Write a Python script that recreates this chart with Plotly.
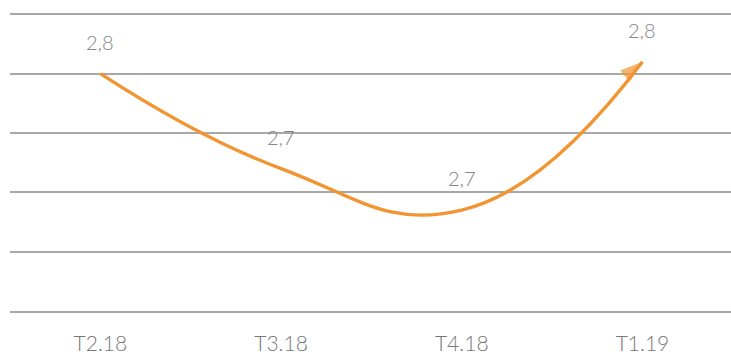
import plotly.graph_objects as go

# Quarterly series
quarters = ["T2.18", "T3.18", "T4.18", "T1.19"]
values = [2.80, 2.72, 2.685, 2.81]
grid_values = [2.65, 2.70, 2.75, 2.80, 2.85]

line_color = "#F19431"
text_color = "#858585"
grid_color = "#a8a8a8"
font_family = "Lato, 'Open Sans', sans-serif"

fig = go.Figure()
fig.add_trace(go.Scatter(
    x=quarters,
    y=values,
    mode="lines+markers",
    line=dict(color=line_color, width=3.4, shape="spline", smoothing=1.3),
    marker=dict(
        symbol="arrow",
        angleref="previous",
        size=[0, 0, 0, 24],
        color=line_color,
        line=dict(width=0),
    ),
    hoverinfo="skip",
    cliponaxis=False,
))

# Value labels above each point (one decimal, comma separator)
for q, v in zip(quarters, values):
    fig.add_annotation(
        x=q, y=v, text=f"{v:.1f}".replace(".", ","),
        showarrow=False, yshift=32,
        font=dict(family=font_family, size=20, color=text_color, weight=300),
    )

fig.update_layout(
    width=731, height=355,
    margin=dict(l=10, r=0, t=0, b=40),
    paper_bgcolor="white",
    plot_bgcolor="white",
    showlegend=False,
    xaxis=dict(
        type="category",
        range=[-0.5, 3.49],
        showgrid=False,
        showline=True,
        linecolor=grid_color,
        linewidth=1.5,
        ticks="",
        ticklabelstandoff=13,
        tickfont=dict(family=font_family, size=21, color="#777777", weight=300),
        fixedrange=True,
    ),
    yaxis=dict(
        range=[2.6, 2.862],
        tickvals=grid_values,
        showticklabels=False,
        showgrid=True,
        gridcolor=grid_color,
        gridwidth=1.5,
        zeroline=False,
        showline=False,
        fixedrange=True,
    ),
)

fig.write_html("out.html")
